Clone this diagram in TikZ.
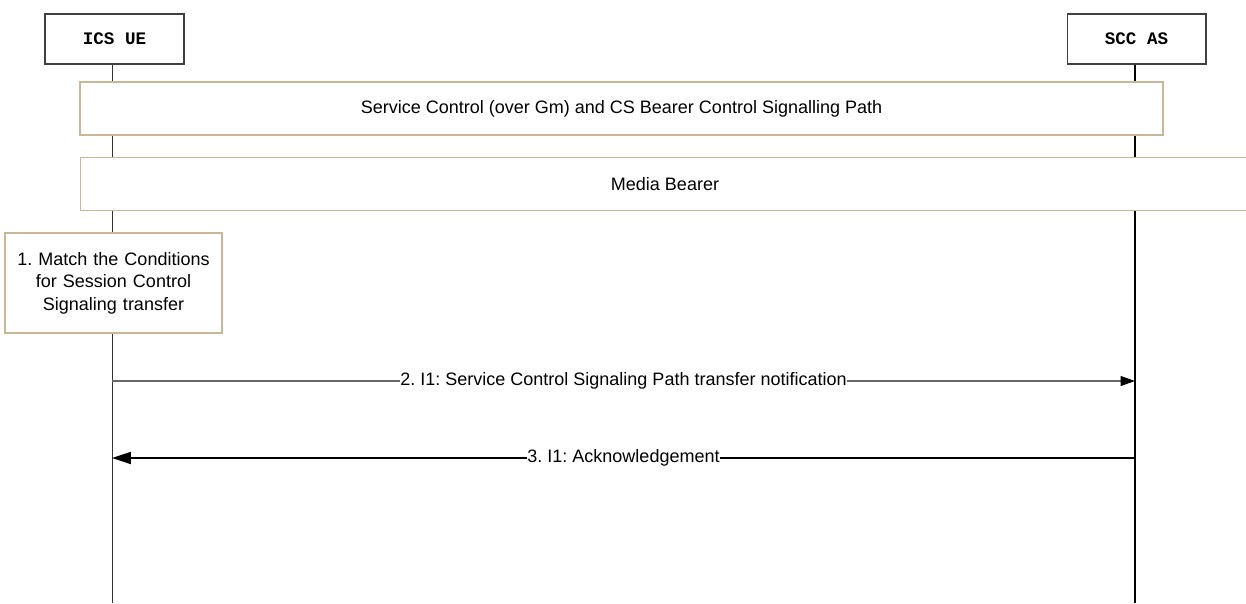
\documentclass[tikz,border=0pt]{standalone}
\usepackage{fontspec}
\setmainfont{Liberation Sans}
\newfontfamily\monobold[BoldFont={Liberation Mono Bold}]{Liberation Mono}
\usepackage{tikz}
\usetikzlibrary{positioning, arrows.meta}
\definecolor{tan}{RGB}{200,184,152}
\frenchspacing

\begin{document}
\begin{tikzpicture}[
      x=0.02cm, y=-0.02cm,
      font=\fontsize{10.25}{12.8}\selectfont,
      entity/.style={draw=black!75, line width=0.6pt, fill=white, font=\monobold\bfseries\fontsize{10}{12}\selectfont, minimum width=2.78cm, minimum height=1cm, inner sep=0pt},
      phase/.style={draw=tan, line width=0.7pt, fill=white, inner sep=0pt, minimum height=1.06cm},
      action/.style={draw=tan, line width=0.7pt, fill=white, align=center, text width=4.2cm, minimum width=4.34cm, minimum height=2cm, inner sep=0pt},
      msg/.style={fill=white, inner sep=0.3pt}
    ]
    \useasboundingbox (0,0) rectangle (1246,603);
    % lifeline heads
    \node[entity] (ue) at (114.5,39) {ICS UE};
    \node[entity] (scc) at (1136.5,39) {SCC AS};
    \coordinate (ueEnd) at (112,603);
    \coordinate (sccEnd) at (1135,603);
    \draw[black!80] (ue.south -| ueEnd) -- (ueEnd);
    \draw[line width=1.2pt] (scc.south -| sccEnd) -- (sccEnd);

    % shared paths
    \node[phase, minimum width=21.66cm] (ctrl) at (621.5,108.5) {Service Control (over Gm) and CS Bearer Control Signalling Path};
    \node[phase, minimum width=23.4cm] (media) at (665,184) {};
    \node at (665,184) {Media Bearer};

    % step 1
    \node[action] (match) at (113.5,283) {1. Match the Conditions\\ for Session Control\\ Signaling transfer};

    % messages
    \coordinate (ue2) at (112,381);
    \coordinate (scc2) at (1135,381);
    \coordinate (ue3) at (112,458);
    \coordinate (scc3) at (1135,458);
    \draw[-{Triangle[length=2.9mm, width=2mm, black]}, black!60, line width=0.6pt] (ue2) -- node[msg, text=black] {2. I1: Service Control Signaling Path transfer notification} (scc2);
    \draw[-{Triangle[length=3.8mm, width=2.4mm]}, line width=1.2pt] (scc3) -- node[msg] {3. I1: Acknowledgement} (ue3);
  \end{tikzpicture}
\end{document}
